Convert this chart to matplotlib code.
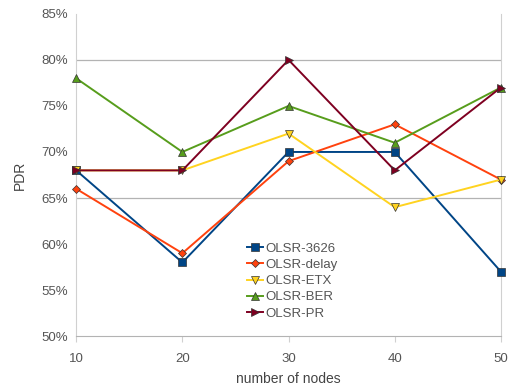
import matplotlib
matplotlib.use("Agg")
import matplotlib.pyplot as plt
from matplotlib.ticker import FuncFormatter

plt.rcParams['font.family'] = ['Liberation Sans', 'DejaVu Sans']

nodes = [10, 20, 30, 40, 50]
olsr_3626 = [68, 58, 70, 70, 57]
olsr_delay = [66, 59, 69, 73, 67]
olsr_etx = [68, 68, 72, 64, 67]
olsr_ber = [78, 70, 75, 71, 77]
olsr_pr = [68, 68, 80, 68, 77]

series = [
    ("OLSR-3626", olsr_3626, '#004586', 's', 6),
    ("OLSR-delay", olsr_delay, '#ff420e', 'D', 4),
    ("OLSR-ETX", olsr_etx, '#ffd320', 'v', 6),
    ("OLSR-BER", olsr_ber, '#579d1c', '^', 6),
    ("OLSR-PR", olsr_pr, '#7e0021', '>', 6),
]

fig = plt.figure(figsize=(5.08, 3.85), dpi=100)
ax = fig.add_axes([0.15, 0.127, 0.836, 0.837])

for label, vals, color, marker, ms in series:
    ax.plot(nodes, vals, color=color, linewidth=1.4, marker=marker,
            markersize=ms, markeredgecolor='#333333', markeredgewidth=0.5,
            label=label, clip_on=False, zorder=3)

ax.set_xlim(10, 50)
ax.set_ylim(50, 85)
ax.set_xticks(nodes)
ax.set_yticks(range(50, 86, 5))
ax.yaxis.set_major_formatter(FuncFormatter(lambda v, p: f"{v:.0f}%"))

# horizontal guide lines
for yv in (65, 80):
    ax.axhline(yv, color='#b3b3b3', linewidth=0.9, zorder=1)

ax.spines['top'].set_visible(False)
for side in ('left', 'right'):
    ax.spines[side].set_color('#d0d0d0')
ax.spines['bottom'].set_color('#b3b3b3')

ax.tick_params(axis='y', length=0, labelsize=9.5, labelcolor='#555555', pad=6)
ax.tick_params(axis='x', length=4, direction='out', color='#d0d0d0',
               labelsize=9.5, labelcolor='#555555', pad=8)

ax.set_xlabel("number of nodes", fontsize=10, color='#444444', labelpad=5)
ax.set_ylabel("PDR", fontsize=10, color='#444444', labelpad=10)

ax.legend(loc='lower left', bbox_to_anchor=(0.39, 0.035), frameon=False,
          fontsize=9.5, labelcolor='#555555', handlelength=1.2,
          handletextpad=0.2, labelspacing=0.3, borderaxespad=0)

fig.savefig("out.png", dpi=100)
